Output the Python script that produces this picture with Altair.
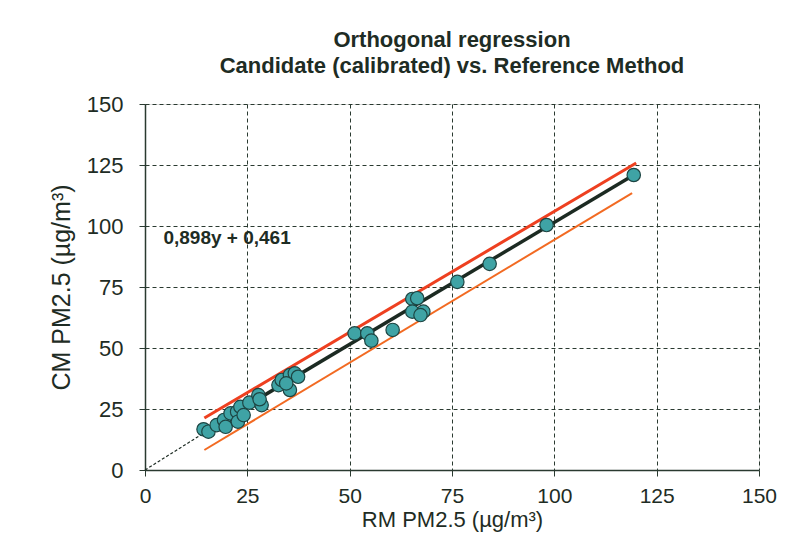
import altair as alt
import pandas as pd

# measured points (RM, CM)
rm = [14.3, 15.5, 17.5, 19.3, 19.7, 20.9, 22.5, 22.7, 23.3, 24.1, 25.5, 27.7, 28.5, 28.0,
      32.6, 33.4, 35.4, 36.6, 35.4, 37.4, 34.5,
      51.2, 54.3, 55.3, 60.5, 65.3, 66.5, 65.3, 68.0, 67.3, 76.3, 84.2, 98.1, 119.4]
cm = [16.7, 15.7, 18.4, 20.5, 17.7, 23.2, 23.9, 19.8, 25.9, 22.5, 27.6, 30.7, 26.6, 29.0,
      34.8, 36.9, 38.9, 39.6, 32.8, 38.2, 35.5,
      56.0, 56.0, 53.0, 57.4, 70.1, 70.4, 64.9, 64.9, 63.5, 77.1, 84.5, 100.4, 120.9]

# lines (endpoints)
reg_x = [14.5, 120.0]
reg_y = [16.0, 121.5]
upper_x = [14.5, 120.0]
upper_y = [21.3, 125.8]
lower_x = [14.5, 119.0]
lower_y = [8.2, 113.5]
dash_x = [0.0, 15.0]
dash_y = [0.0, 15.8]

ticks = [0, 25, 50, 75, 100, 125, 150]
label_text = ["0,898y + 0,461"]
label_x = [4.5]
label_y = [95.0]

pts = pd.DataFrame({"RM": rm, "CM": cm})
reg = pd.DataFrame({"RM": reg_x, "CM": reg_y})
up = pd.DataFrame({"RM": upper_x, "CM": upper_y})
lo = pd.DataFrame({"RM": lower_x, "CM": lower_y})
dsh = pd.DataFrame({"RM": dash_x, "CM": dash_y})
lab = pd.DataFrame({"RM": label_x, "CM": label_y, "t": label_text})

FONT = "Liberation Sans"
TXT = "#1e2c24"

xs = alt.Scale(domain=[0, 150], nice=False)
ys = alt.Scale(domain=[0, 150], nice=False)

xax = alt.Axis(values=ticks, title="RM PM2.5 (µg/m³)", grid=True, gridDash=[4, 3],
               gridColor="#2a3a30", gridWidth=1, domainColor="#2a3a30", domainWidth=1.5,
               tickColor="#2a3a30", tickSize=6, labelFontSize=21, titleFontSize=22,
               labelPadding=9, titlePadding=3, labelColor=TXT, titleColor=TXT,
               labelFont=FONT, titleFont=FONT, titleFontWeight="normal", labelFlush=False)
yax = alt.Axis(values=ticks, title="CM PM2.5 (µg/m³)", grid=True, gridDash=[4, 3],
               gridColor="#2a3a30", gridWidth=1, domainColor="#2a3a30", domainWidth=1.5,
               tickColor="#2a3a30", tickSize=6, labelFontSize=22, titleFontSize=25,
               labelPadding=16, titlePadding=12, labelColor=TXT, titleColor=TXT,
               labelFont=FONT, titleFont=FONT, titleFontWeight="normal", labelFlush=False)

base_x = alt.X("RM:Q", scale=xs, axis=xax)
base_y = alt.Y("CM:Q", scale=ys, axis=yax)

dash_l = alt.Chart(dsh).mark_line(color="#1e2c24", strokeDash=[3, 2], strokeWidth=1.2).encode(
    x=base_x, y=base_y)
up_l = alt.Chart(up).mark_line(color="#ee4020", strokeWidth=3).encode(x="RM:Q", y="CM:Q")
lo_l = alt.Chart(lo).mark_line(color="#f26a22", strokeWidth=2).encode(x="RM:Q", y="CM:Q")
reg_l = alt.Chart(reg).mark_line(color="#1c2a22", strokeWidth=3.5).encode(x="RM:Q", y="CM:Q")
pt = alt.Chart(pts).mark_point(filled=True, size=180, fill="#3fa3a5", stroke="#1d4543",
                               strokeWidth=1.2, opacity=1, fillOpacity=1).encode(x="RM:Q", y="CM:Q")
txt = alt.Chart(lab).mark_text(align="left", baseline="middle", fontSize=19, fontWeight="bold",
                               font=FONT, color=TXT).encode(x="RM:Q", y="CM:Q", text="t:N")

chart = alt.layer(dash_l, up_l, lo_l, reg_l, pt, txt).properties(
    width=614, height=366,
    title=alt.TitleParams(["Orthogonal regression", "Candidate (calibrated) vs. Reference Method"],
                          font=FONT, fontSize=22, fontWeight="bold", color=TXT,
                          anchor="middle", lineHeight=26, offset=15),
    autosize=alt.AutoSizeParams(type="none"),
    padding={"left": 137, "top": 96, "right": 19, "bottom": 73},
).configure_view(stroke=None).configure(background="white")

chart.save("out.html", embed_options={"renderer": "svg", "actions": False})
